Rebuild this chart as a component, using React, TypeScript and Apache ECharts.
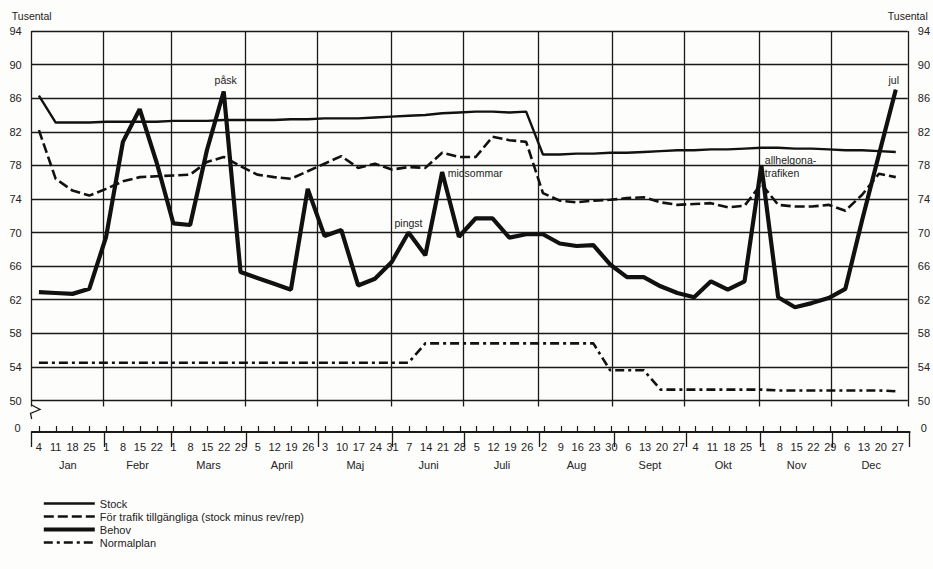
import React, { useEffect, useRef } from "react";
import * as echarts from "echarts";

// ---- Data ----
const monthNames = ["Jan", "Febr", "Mars", "April", "Maj", "Juni", "Juli", "Aug", "Sept", "Okt", "Nov", "Dec"];
const monthLengths = [31, 28, 31, 30, 31, 30, 31, 31, 30, 31, 30, 31];

// week dates: month index and day of month
const weekMonth = [
  0, 0, 0, 0, 1, 1, 1, 1, 2, 2, 2, 2, 2, 3, 3, 3, 3, 4, 4, 4, 4, 4, 5, 5, 5, 5,
  6, 6, 6, 6, 7, 7, 7, 7, 7, 8, 8, 8, 8, 9, 9, 9, 9, 10, 10, 10, 10, 10, 11, 11, 11, 11,
];
const weekDay = [
  4, 11, 18, 25, 1, 8, 15, 22, 1, 8, 15, 22, 29, 5, 12, 19, 26, 3, 10, 17, 24, 31, 7, 14, 21, 28,
  5, 12, 19, 26, 2, 9, 16, 23, 30, 6, 13, 20, 27, 4, 11, 18, 25, 1, 8, 15, 22, 29, 6, 13, 20, 27,
];

const stock = [
  86.3, 83.1, 83.1, 83.1, 83.2, 83.2, 83.2, 83.2, 83.3, 83.3,
  83.3, 83.4, 83.4, 83.4, 83.4, 83.5, 83.5, 83.6, 83.6, 83.6,
  83.7, 83.8, 83.9, 84.0, 84.2, 84.3, 84.4, 84.4, 84.3, 84.4,
  79.3, 79.3, 79.4, 79.4, 79.5, 79.5, 79.6, 79.7, 79.8, 79.8,
  79.9, 79.9, 80.0, 80.1, 80.1, 80.0, 80.0, 79.9, 79.8, 79.8,
  79.7, 79.6,
];
const available = [
  82.2, 76.4, 75.0, 74.4, 75.2, 76.1, 76.6, 76.7, 76.8, 76.9,
  78.4, 79.0, 77.9, 76.9, 76.6, 76.4, 77.3, 78.2, 79.1, 77.7,
  78.2, 77.5, 77.8, 77.7, 79.5, 79.0, 79.0, 81.4, 81.0, 80.8,
  74.7, 73.8, 73.6, 73.8, 73.9, 74.1, 74.2, 73.6, 73.3, 73.4,
  73.5, 73.0, 73.2, 75.8, 73.3, 73.1, 73.1, 73.3, 72.6, 74.5,
  77.0, 76.6,
];
const behov = [
  62.9, 62.8, 62.7, 63.3, 69.5, 80.8, 84.7, 78.4, 71.1, 70.9,
  79.8, 86.8, 65.3, 64.6, 63.9, 63.2, 75.2, 69.6, 70.3, 63.7,
  64.5, 66.5, 70.0, 67.3, 77.2, 69.5, 71.7, 71.7, 69.4, 69.8,
  69.8, 68.7, 68.4, 68.5, 66.2, 64.7, 64.7, 63.6, 62.8, 62.3,
  64.2, 63.2, 64.2, 78.0, 62.3, 61.1, 61.6, 62.2, 63.3, 71.5,
  79.3, 87.0,
];
const normalplan = [
  54.5, 54.5, 54.5, 54.5, 54.5, 54.5, 54.5, 54.5, 54.5, 54.5,
  54.5, 54.5, 54.5, 54.5, 54.5, 54.5, 54.5, 54.5, 54.5, 54.5,
  54.5, 54.5, 54.5, 56.8, 56.8, 56.8, 56.8, 56.8, 56.8, 56.8,
  56.8, 56.8, 56.8, 56.8, 53.6, 53.6, 53.6, 51.3, 51.3, 51.3,
  51.3, 51.3, 51.3, 51.3, 51.2, 51.2, 51.2, 51.2, 51.2, 51.2,
  51.2, 51.1,
];

const yTicks = [50, 54, 58, 62, 66, 70, 74, 78, 82, 86, 90, 94];
const zeroTick = [0];

const annotations = [
  { index: 11, text: "påsk" },
  { index: 22, text: "pingst" },
  { index: 24, text: "midsommar" },
  { index: 43, text: "allhelgona-\ntrafiken" },
  { index: 51, text: "jul" },
];

const seriesNames = ["Stock", "För trafik tillgängliga (stock minus rev/rep)", "Behov", "Normalplan"];

// ---- Derived positions (day of year) ----
const monthStart: number[] = [];
{
  let acc = 0;
  for (const len of monthLengths) {
    monthStart.push(acc);
    acc += len;
  }
}
const weekDoy = weekMonth.map((m, i) => monthStart[m] + weekDay[i]);
const monthLines = [1, ...monthStart.slice(1), 366];
const monthCenters = monthNames.map((_, m) => (monthLines[m] + monthLines[m + 1]) / 2);

const FONT = "'Liberation Sans', Arial, Helvetica, sans-serif";
const INK = "#1a1a1a";
const TXT = "#222";

function buildOption(): any {
  const weekLabelMap = new Map<number, string>();
  weekDoy.forEach((d, i) => weekLabelMap.set(d, String(weekDay[i])));
  const monthLabelMap = new Map<number, string>();
  monthCenters.forEach((c, i) => monthLabelMap.set(c, monthNames[i]));

  const annoStyle: Record<number, any> = {
    11: { position: "top", distance: 5, offset: [2, 0] },
    22: { position: "top", distance: 4, offset: [0, 0] },
    24: { position: "right", distance: 5, offset: [0, 1] },
    43: { position: "right", distance: 3, offset: [0, 1], align: "left", lineHeight: 13 },
    51: { position: "top", distance: 4, offset: [-2, 0] },
  };

  const markData = annotations.map((a) => ({
    coord: [weekDoy[a.index], behov[a.index]],
    label: {
      show: true,
      formatter: a.text,
      fontSize: 10.5,
      fontFamily: FONT,
      color: TXT,
      ...annoStyle[a.index],
    },
  }));

  const gridL = 31.7;
  const gridR = 933 - 909.7;

  const baseX = { type: "value", min: 1, max: 366 };

  const yLabel = {
    customValues: yTicks,
    fontSize: 11,
    fontFamily: FONT,
    color: TXT,
    margin: 10,
  };

  const zeroLabel = {
    customValues: zeroTick,
    fontSize: 11,
    fontFamily: FONT,
    color: TXT,
    margin: 11,
    verticalAlign: "bottom",
    lineHeight: 9,
  };

  return {
    animation: false,
    backgroundColor: "#fdfdfc",
    textStyle: { fontFamily: FONT },
    grid: [
      { left: gridL, right: gridR, top: 31, height: 375.4 },
      { left: gridL, right: gridR, top: 417, height: 15 },
      { left: gridL, right: gridR, top: 417, height: 15 },
    ],
    xAxis: [
      { ...baseX, gridIndex: 0, show: false },
      {
        ...baseX,
        gridIndex: 1,
        position: "bottom",
        axisLine: { show: true, lineStyle: { color: INK, width: 1.8 } },
        axisTick: { show: true, inside: true, length: 6, customValues: weekDoy, lineStyle: { color: INK, width: 1.2 } },
        axisLabel: {
          show: true,
          customValues: weekDoy,
          formatter: (v: number) => weekLabelMap.get(v) ?? "",
          fontSize: 11,
          fontFamily: FONT,
          color: TXT,
          margin: 9,
        },
        splitLine: { show: false },
      },
      {
        ...baseX,
        gridIndex: 1,
        position: "top",
        axisLine: { show: false },
        axisTick: { show: true, inside: true, length: 15, customValues: monthLines, lineStyle: { color: INK, width: 1.3 } },
        axisLabel: { show: false },
        splitLine: { show: false },
      },
      {
        ...baseX,
        gridIndex: 2,
        position: "bottom",
        axisLine: { show: false },
        axisTick: { show: false },
        axisLabel: {
          show: true,
          customValues: monthCenters,
          formatter: (v: number) => monthLabelMap.get(v) ?? "",
          fontSize: 11,
          fontFamily: FONT,
          color: TXT,
          margin: 27,
        },
        splitLine: { show: false },
      },
    ],
    yAxis: [
      {
        type: "value",
        gridIndex: 0,
        position: "left",
        min: 49.3,
        max: 94,
        name: "Tusental",
        nameLocation: "end",
        nameGap: 10,
        nameTextStyle: { fontSize: 10.5, fontFamily: FONT, color: TXT },
        axisLine: { show: false },
        axisTick: { show: false },
        splitLine: { show: false },
        axisLabel: yLabel,
      },
      {
        type: "value",
        gridIndex: 0,
        position: "right",
        min: 49.3,
        max: 94,
        name: "Tusental",
        nameLocation: "end",
        nameGap: 10,
        nameTextStyle: { fontSize: 10.5, fontFamily: FONT, color: TXT },
        axisLine: { show: false },
        axisTick: { show: false },
        splitLine: { show: false },
        axisLabel: yLabel,
      },
      {
        type: "value",
        gridIndex: 1,
        position: "left",
        min: 0,
        max: 1,
        axisLine: { show: false },
        axisTick: { show: false },
        splitLine: { show: false },
        axisLabel: zeroLabel,
      },
      {
        type: "value",
        gridIndex: 1,
        position: "right",
        min: 0,
        max: 1,
        axisLine: { show: false },
        axisTick: { show: false },
        splitLine: { show: false },
        axisLabel: zeroLabel,
      },
      { type: "value", gridIndex: 2, min: 0, max: 1, show: false },
    ],
    legend: {
      orient: "vertical",
      left: 41.7,
      top: 497,
      padding: 0,
      itemWidth: 51,
      itemHeight: 13,
      itemGap: 0,
      selectedMode: false,
      data: seriesNames,
      lineStyle: { width: "inherit" },
      itemStyle: { color: "rgba(0,0,0,0)", borderWidth: 0, opacity: 0 },
      textStyle: { fontSize: 11, fontFamily: FONT, color: TXT, lineHeight: 13 },
    },
    graphic: [
      {
        type: "polyline",
        shape: { points: [[31.7, 405], [40, 409.5], [30.5, 413.5], [31.7, 419]] },
        style: { stroke: INK, lineWidth: 1.3, fill: "none" },
      },
    ],
    series: [
      {
        name: "_grid",
        type: "line",
        xAxisIndex: 0,
        yAxisIndex: 0,
        data: [[1, 49.3]],
        symbol: "none",
        lineStyle: { width: 0 },
        silent: true,
        markLine: {
          z: 1,
          silent: true,
          symbol: ["none", "none"],
          label: { show: false },
          lineStyle: { color: INK, width: 1.3, type: "solid" },
          data: [
            ...yTicks.map((v) => ({ yAxis: v })),
            ...monthLines.map((d) => ({ xAxis: d })),
          ],
        },
      },
      {
        name: seriesNames[0],
        type: "line",
        xAxisIndex: 0,
        yAxisIndex: 0,
        z: 3,
        symbol: "none",
        data: stock.map((v, i) => [weekDoy[i], v]),
        lineStyle: { color: "#111", width: 2.4, type: "solid" },
        itemStyle: { color: "#111" },
      },
      {
        name: seriesNames[1],
        type: "line",
        xAxisIndex: 0,
        yAxisIndex: 0,
        z: 3,
        symbol: "none",
        data: available.map((v, i) => [weekDoy[i], v]),
        lineStyle: { color: "#111", width: 2.6, type: [10, 4] },
        itemStyle: { color: "#111" },
      },
      {
        name: seriesNames[2],
        type: "line",
        xAxisIndex: 0,
        yAxisIndex: 0,
        z: 4,
        symbol: "none",
        data: behov.map((v, i) => [weekDoy[i], v]),
        lineStyle: { color: "#111", width: 4.2, type: "solid" },
        itemStyle: { color: "#111" },
        markPoint: {
          silent: true,
          symbol: "circle",
          symbolSize: 1,
          itemStyle: { color: "#111" },
          data: markData,
        },
      },
      {
        name: seriesNames[3],
        type: "line",
        xAxisIndex: 0,
        yAxisIndex: 0,
        z: 3,
        symbol: "none",
        data: normalplan.map((v, i) => [weekDoy[i], v]),
        lineStyle: { color: "#111", width: 2.6, type: [9, 4, 3, 4] },
        itemStyle: { color: "#111" },
      },
    ],
  };
}

export default function App() {
  const ref = useRef<HTMLDivElement>(null);
  useEffect(() => {
    if (!ref.current) return;
    const chart = echarts.init(ref.current, null, { renderer: "svg" });
    chart.setOption(buildOption());
    return () => {
      chart.dispose();
    };
  }, []);
  return <div ref={ref} style={{ position: "fixed", left: 0, top: 0, width: 933, height: 569 }} />;
}
